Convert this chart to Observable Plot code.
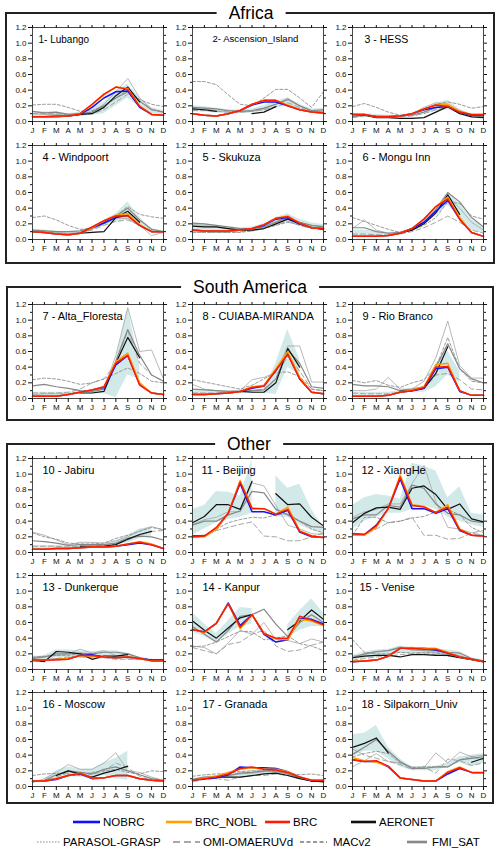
<!DOCTYPE html>
<html><head><meta charset="utf-8">
<script src="https://cdn.jsdelivr.net/npm/d3@7"></script>
<script src="https://cdn.jsdelivr.net/npm/@observablehq/plot@0.6"></script>
<style>
body{margin:0;background:#fff;font-family:"Liberation Sans",Arial,Helvetica,sans-serif;}
#root{position:relative;width:500px;height:853px;overflow:hidden;background:#fff;}
.box{position:absolute;border:2px solid #222;box-sizing:border-box;}
.gtitle{position:absolute;font-size:17.5px;background:#fff;padding:0 12px;transform:translate(-50%,-50%);line-height:20px;white-space:nowrap;color:#000;}
.pn{position:absolute;}
.lg{position:absolute;font-size:11.5px;line-height:14px;white-space:nowrap;color:#000;transform:translateY(-50%);}
.lgs{position:absolute;overflow:visible;}
</style></head><body><div id="root"></div>
<script>
const months = ["J","F","M","A","M","J","J","A","S","O","N","D"];
const stations = ["1- Lubango","2- Ascension_Island","3 - HESS","4 - Windpoort","5 - Skukuza","6 - Mongu Inn",
 "7 - Alta_Floresta","8 - CUIABA-MIRANDA","9 - Rio Branco","10 - Jabiru","11 - Beijing","12 - XiangHe",
 "13 - Dunkerque","14 - Kanpur","15 - Venise","16 - Moscow","17 - Granada","18 - Silpakorn_Univ"];
const regions = ["Africa","South America","Other"];
const legendLabels = ["NOBRC","BRC_NOBL","BRC","AERONET","PARASOL-GRASP","OMI-OMAERUVd","MACv2","FMI_SAT"];

const nobrc = [
[0.06,0.06,0.06,0.07,0.09,0.18,0.30,0.38,0.39,0.18,0.09,0.08],
[0.10,0.08,0.07,0.10,0.14,0.21,0.25,0.25,0.20,0.15,0.12,0.11],
[0.09,0.09,0.06,0.06,0.07,0.10,0.15,0.18,0.19,0.12,0.08,0.08],
[0.10,0.09,0.07,0.06,0.08,0.15,0.21,0.28,0.31,0.18,0.10,0.10],
[0.12,0.11,0.11,0.11,0.12,0.14,0.18,0.26,0.28,0.20,0.15,0.14],
[0.04,0.04,0.04,0.05,0.08,0.14,0.22,0.36,0.50,0.26,0.09,0.04],
[0.03,0.03,0.03,0.05,0.08,0.11,0.14,0.43,0.55,0.18,0.07,0.05],
[0.05,0.05,0.06,0.07,0.09,0.13,0.16,0.36,0.58,0.25,0.08,0.06],
[0.03,0.03,0.03,0.04,0.08,0.10,0.13,0.38,0.40,0.09,0.04,0.04],
[0.04,0.04,0.05,0.05,0.06,0.07,0.07,0.08,0.10,0.12,0.10,0.05],
[0.21,0.21,0.30,0.50,0.88,0.52,0.52,0.48,0.54,0.26,0.20,0.19],
[0.24,0.23,0.35,0.56,0.94,0.56,0.56,0.50,0.56,0.28,0.22,0.21],
[0.12,0.12,0.13,0.14,0.18,0.19,0.16,0.15,0.16,0.14,0.12,0.12],
[0.51,0.48,0.59,0.85,0.56,0.70,0.45,0.35,0.38,0.65,0.64,0.58],
[0.10,0.11,0.12,0.17,0.27,0.27,0.27,0.25,0.21,0.16,0.13,0.10],
[0.07,0.07,0.09,0.14,0.16,0.10,0.11,0.14,0.14,0.10,0.08,0.07],
[0.08,0.10,0.11,0.15,0.25,0.24,0.24,0.23,0.19,0.12,0.07,0.07],
[0.34,0.32,0.32,0.25,0.11,0.09,0.07,0.07,0.16,0.23,0.18,0.17]];

const brcNobl = [
[0.06,0.06,0.07,0.07,0.10,0.21,0.34,0.44,0.42,0.20,0.09,0.08],
[0.10,0.08,0.07,0.10,0.14,0.22,0.27,0.27,0.21,0.15,0.12,0.11],
[0.09,0.09,0.06,0.06,0.07,0.10,0.16,0.21,0.22,0.13,0.09,0.09],
[0.10,0.09,0.07,0.06,0.08,0.15,0.24,0.31,0.33,0.19,0.10,0.10],
[0.12,0.11,0.11,0.11,0.12,0.14,0.19,0.27,0.30,0.21,0.15,0.14],
[0.04,0.04,0.04,0.05,0.08,0.14,0.26,0.42,0.54,0.28,0.09,0.04],
[0.03,0.03,0.03,0.05,0.08,0.11,0.15,0.47,0.58,0.20,0.07,0.05],
[0.05,0.05,0.06,0.07,0.09,0.15,0.17,0.38,0.60,0.27,0.08,0.06],
[0.03,0.03,0.03,0.04,0.08,0.11,0.15,0.43,0.45,0.10,0.04,0.04],
[0.04,0.04,0.05,0.05,0.06,0.07,0.07,0.08,0.11,0.14,0.11,0.05],
[0.19,0.20,0.30,0.50,0.92,0.57,0.56,0.49,0.58,0.28,0.21,0.19],
[0.22,0.22,0.32,0.56,0.99,0.61,0.59,0.51,0.61,0.30,0.22,0.21],
[0.12,0.12,0.13,0.14,0.18,0.17,0.16,0.15,0.16,0.14,0.11,0.11],
[0.52,0.47,0.59,0.84,0.52,0.70,0.46,0.39,0.38,0.64,0.62,0.56],
[0.11,0.11,0.12,0.17,0.27,0.28,0.27,0.27,0.22,0.16,0.13,0.10],
[0.07,0.07,0.10,0.14,0.17,0.11,0.11,0.14,0.14,0.10,0.08,0.07],
[0.08,0.11,0.13,0.18,0.22,0.24,0.22,0.22,0.19,0.12,0.08,0.08],
[0.37,0.33,0.31,0.26,0.11,0.09,0.07,0.07,0.19,0.25,0.18,0.17]];

const brc = [
[0.06,0.06,0.07,0.07,0.10,0.22,0.35,0.44,0.41,0.19,0.09,0.08],
[0.10,0.08,0.07,0.10,0.14,0.22,0.27,0.27,0.20,0.15,0.12,0.11],
[0.09,0.09,0.06,0.06,0.07,0.10,0.16,0.21,0.19,0.12,0.09,0.09],
[0.10,0.09,0.07,0.06,0.08,0.16,0.24,0.30,0.30,0.18,0.10,0.10],
[0.12,0.11,0.11,0.11,0.12,0.14,0.19,0.27,0.29,0.21,0.15,0.14],
[0.04,0.04,0.04,0.05,0.08,0.14,0.26,0.42,0.52,0.26,0.09,0.04],
[0.03,0.03,0.03,0.05,0.08,0.11,0.15,0.45,0.55,0.17,0.07,0.05],
[0.05,0.05,0.06,0.07,0.09,0.14,0.16,0.36,0.56,0.25,0.08,0.06],
[0.03,0.03,0.03,0.04,0.08,0.10,0.14,0.40,0.41,0.10,0.04,0.04],
[0.04,0.04,0.05,0.05,0.06,0.07,0.07,0.08,0.11,0.13,0.10,0.05],
[0.20,0.21,0.32,0.50,0.90,0.56,0.56,0.49,0.55,0.27,0.21,0.19],
[0.24,0.23,0.34,0.56,0.96,0.60,0.58,0.51,0.58,0.29,0.22,0.21],
[0.12,0.12,0.12,0.13,0.18,0.18,0.16,0.15,0.16,0.14,0.11,0.11],
[0.51,0.48,0.59,0.84,0.54,0.70,0.46,0.40,0.40,0.68,0.63,0.57],
[0.10,0.11,0.12,0.17,0.27,0.27,0.26,0.26,0.21,0.16,0.13,0.10],
[0.07,0.07,0.10,0.14,0.17,0.11,0.11,0.14,0.14,0.10,0.08,0.07],
[0.08,0.10,0.12,0.16,0.23,0.25,0.22,0.21,0.18,0.12,0.08,0.08],
[0.34,0.32,0.33,0.26,0.11,0.09,0.07,0.07,0.18,0.24,0.18,0.18]];

const aeronet = [
[null,null,null,0.07,0.09,0.10,0.18,0.33,0.44,0.25,null,null],
[0.16,0.15,0.13,null,null,0.10,0.12,0.19,null,null,null,null],
[0.09,0.08,0.05,0.05,0.04,0.04,0.05,0.12,0.19,0.10,0.06,0.05],
[null,null,null,null,0.08,0.09,0.10,0.28,0.36,0.22,null,null],
[0.17,0.16,0.16,0.14,0.12,0.12,0.14,0.20,0.26,0.20,0.15,0.13],
[null,null,null,null,0.08,0.12,0.20,0.34,0.57,0.32,null,null],
[null,null,null,null,0.07,0.07,0.09,0.45,0.78,0.52,null,null],
[null,null,null,null,0.09,0.08,0.08,0.20,0.64,0.40,null,null],
[null,null,null,null,0.09,0.10,0.13,0.32,0.66,null,null,null],
[null,null,null,null,0.08,0.08,0.08,0.10,0.17,0.23,0.27,null],
[0.38,0.46,0.61,0.61,0.55,0.91,null,0.75,0.61,0.62,0.45,0.34],
[0.38,0.50,0.57,0.58,0.55,0.82,0.85,0.74,0.55,0.62,0.43,0.39],
[0.12,0.10,0.23,0.22,0.20,0.13,0.17,0.17,0.19,null,null,null],
[0.62,0.50,0.40,0.53,0.66,0.70,null,null,0.51,0.62,0.76,0.64],
[0.15,0.17,0.18,0.18,0.16,0.19,0.19,0.18,0.18,0.15,0.13,0.10],
[null,null,0.14,0.20,0.16,0.12,0.17,0.21,0.26,null,null,null],
[0.08,0.10,0.12,0.12,0.12,0.14,0.16,0.17,0.14,0.10,0.07,0.06],
[0.50,0.55,0.62,0.43,null,null,null,null,null,null,0.31,0.36]];

const parasol = [
[0.10,0.09,0.09,0.08,0.09,0.12,0.22,0.38,0.55,0.30,0.16,0.12],
[0.15,0.16,0.14,0.12,0.12,0.13,0.16,0.22,0.30,0.20,0.13,0.14],
[0.07,0.08,0.07,0.06,0.07,0.10,0.18,0.24,0.22,0.14,0.08,0.06],
[0.11,0.10,0.09,0.08,0.09,0.13,0.20,0.27,0.27,0.18,0.05,0.09],
[0.19,0.18,0.16,0.14,0.13,0.14,0.17,0.23,0.27,0.22,0.18,0.17],
[0.14,0.25,0.12,0.08,0.08,0.12,0.20,0.33,0.55,0.40,0.22,0.12],
[0.05,0.06,0.06,0.06,0.08,0.10,0.12,0.55,1.16,0.60,0.62,0.25],
[0.18,0.12,0.10,0.09,0.10,0.24,0.27,0.33,0.67,0.67,0.21,0.21],
[0.10,0.10,0.12,0.27,0.12,0.12,0.22,0.52,0.99,0.42,0.26,0.26],
[0.26,0.22,0.16,0.10,0.13,0.13,0.12,0.15,0.20,0.28,0.33,0.29],
[0.36,0.42,0.45,0.52,0.52,0.89,0.85,0.60,0.35,0.30,0.24,0.23],
[0.45,0.52,0.55,0.62,0.62,0.88,1.11,0.65,0.32,0.30,0.25,0.22],
[0.17,0.16,0.18,0.20,0.26,0.21,0.24,0.18,0.14,0.13,0.11,0.12],
[0.30,0.28,0.20,0.34,0.50,0.45,0.60,0.38,0.37,0.33,0.39,0.35],
[0.17,0.19,0.22,0.24,0.29,0.26,0.24,0.22,0.20,0.18,0.13,0.11],
[0.05,0.10,0.18,0.28,0.22,0.22,0.30,0.43,0.20,0.18,0.12,0.08],
[0.07,0.10,0.12,0.14,0.16,0.17,0.19,0.22,0.17,0.12,0.08,0.07],
[0.25,0.33,0.42,0.32,0.30,0.25,0.24,0.43,0.30,0.44,0.38,0.40]];

const omi = [
[0.10,0.10,0.10,0.09,0.09,0.10,0.15,0.25,0.35,0.26,0.15,0.12],
[0.14,0.14,0.13,0.12,0.12,0.13,0.15,0.19,0.24,0.18,0.12,0.13],
[0.05,0.07,0.06,0.06,0.06,0.07,0.10,0.15,0.18,0.12,0.07,0.06],
[0.10,0.09,0.08,0.07,0.08,0.12,0.18,0.23,0.25,0.18,0.11,0.10],
[0.10,0.09,0.09,0.09,0.10,0.11,0.14,0.19,0.23,0.18,0.14,0.13],
[0.07,0.07,0.06,0.06,0.07,0.10,0.15,0.22,0.30,0.22,0.12,0.08],
[0.07,0.07,0.07,0.08,0.12,0.20,0.25,0.45,0.86,0.45,0.30,0.22],
[0.07,0.07,0.07,0.07,0.08,0.10,0.12,0.25,0.55,0.35,0.12,0.10],
[0.07,0.06,0.06,0.06,0.08,0.10,0.12,0.30,0.32,0.24,0.12,0.11],
[0.08,0.08,0.08,0.07,0.08,0.08,0.09,0.11,0.16,0.22,0.27,0.28],
[0.21,0.22,0.28,0.32,0.36,0.39,0.21,0.20,0.15,0.15,0.20,0.25],
[0.22,0.23,0.30,0.38,0.40,0.45,0.22,0.22,0.17,0.18,0.25,0.28],
[0.10,0.11,0.14,0.16,0.16,0.15,0.15,0.13,0.13,0.13,0.12,0.11],
[0.28,0.24,0.20,0.32,0.35,0.45,0.50,0.30,0.23,0.25,0.31,0.35],
[0.12,0.14,0.16,0.17,0.19,0.20,0.20,0.19,0.17,0.15,0.12,0.10],
[0.06,0.08,0.12,0.18,0.18,0.15,0.20,0.30,0.24,0.13,0.08,0.07],
[0.06,0.09,0.10,0.08,0.12,0.14,0.14,0.16,0.14,0.10,0.07,0.06],
[0.48,0.40,0.36,0.32,0.28,0.22,0.25,0.17,0.35,0.33,0.27,0.30]];

const macv2 = [
[0.21,0.22,0.22,0.18,0.13,0.14,0.20,0.30,0.40,0.28,0.22,0.19],
[0.51,0.51,0.47,0.34,0.22,0.20,0.30,0.41,0.41,0.30,0.18,0.38],
[0.19,0.23,0.18,0.12,0.08,0.10,0.15,0.22,0.25,0.22,0.17,0.19],
[0.28,0.30,0.25,0.18,0.13,0.14,0.20,0.30,0.42,0.32,0.29,0.27],
[0.09,0.09,0.09,0.09,0.09,0.11,0.14,0.18,0.22,0.19,0.16,0.12],
[0.28,0.23,0.18,0.13,0.09,0.12,0.18,0.28,0.48,0.46,0.30,0.26],
[0.24,0.26,0.25,0.22,0.18,0.20,0.25,0.32,0.39,0.32,0.22,0.20],
[0.24,0.21,0.18,0.15,0.12,0.17,0.25,0.33,0.34,0.28,0.12,0.10],
[0.23,0.20,0.23,0.17,0.14,0.20,0.24,0.40,0.78,0.38,0.22,0.20],
[0.25,0.20,0.17,0.12,0.11,0.11,0.12,0.18,0.22,0.27,0.32,0.29],
[0.21,0.22,0.30,0.38,0.42,0.45,0.44,0.48,0.50,0.40,0.30,0.25],
[0.22,0.45,0.45,0.38,0.40,0.44,0.46,0.52,0.55,0.48,0.32,0.25],
[0.15,0.17,0.18,0.18,0.20,0.18,0.17,0.16,0.20,0.15,0.12,0.12],
[0.29,0.30,0.35,0.42,0.49,0.48,0.38,0.40,0.43,0.33,0.30,0.24],
[0.38,0.22,0.20,0.20,0.22,0.21,0.22,0.21,0.19,0.16,0.12,0.10],
[0.14,0.16,0.17,0.16,0.14,0.18,0.20,0.22,0.18,0.16,0.20,0.19],
[0.13,0.15,0.16,0.17,0.19,0.20,0.20,0.19,0.17,0.15,0.16,0.14],
[0.38,0.42,0.45,0.42,0.30,0.24,0.25,0.25,0.25,0.34,0.38,0.34]];

const fmi = [
[0.13,0.11,0.12,0.09,0.10,0.12,0.20,0.30,0.38,0.26,0.15,0.12],
[0.18,0.17,0.16,0.14,0.13,0.14,0.17,0.22,0.28,0.20,0.14,0.15],
[0.06,0.08,0.07,0.07,0.07,0.08,0.12,0.18,0.20,0.13,0.08,0.07],
[0.12,0.11,0.10,0.10,0.11,0.15,0.22,0.30,0.40,0.25,0.13,0.10],
[0.21,0.20,0.18,0.16,0.14,0.14,0.16,0.22,0.28,0.22,0.18,0.16],
[0.15,0.15,0.10,0.08,0.09,0.13,0.22,0.38,0.60,0.48,0.28,0.16],
[0.16,0.18,0.15,0.13,0.10,0.09,0.12,0.48,0.88,0.55,0.30,0.22],
[0.12,0.11,0.10,0.09,0.09,0.10,0.11,0.25,0.62,0.45,0.15,0.13],
[0.18,0.16,0.16,0.15,0.10,0.12,0.15,0.40,0.70,0.38,0.25,0.20],
[0.15,0.14,0.12,0.09,0.10,0.10,0.10,0.12,0.18,0.21,0.20,0.16],
[0.35,0.40,0.40,0.48,0.53,0.78,0.76,0.55,0.48,0.40,0.33,0.32],
[0.43,0.48,0.48,0.60,0.58,0.86,0.82,0.62,0.50,0.48,0.40,0.38],
[0.14,0.16,0.20,0.20,0.21,0.20,0.22,0.22,0.20,0.15,0.12,0.12],
[0.55,0.45,0.35,0.50,0.68,0.70,0.77,0.58,0.42,0.60,0.70,0.60],
[0.15,0.20,0.23,0.24,0.28,0.25,0.25,0.24,0.22,0.21,0.14,0.11],
[0.06,0.08,0.15,0.20,0.18,0.16,0.22,0.25,0.20,0.15,0.10,0.08],
[0.09,0.12,0.13,0.14,0.17,0.18,0.20,0.20,0.16,0.11,0.08,0.07],
[0.41,0.50,0.60,0.45,0.32,0.23,0.23,0.25,0.25,0.34,0.36,0.38]];

const bandLo = [
[0.05,0.05,0.05,0.05,0.06,0.08,0.10,0.20,0.30,0.18,0.08,0.06],
[0.12,0.12,0.11,0.10,0.10,0.11,0.13,0.17,0.20,0.15,0.11,0.11],
[0.04,0.05,0.05,0.05,0.05,0.06,0.09,0.13,0.15,0.10,0.05,0.04],
[0.09,0.08,0.08,0.07,0.08,0.12,0.18,0.22,0.25,0.16,0.09,0.08],
[0.10,0.10,0.10,0.10,0.10,0.11,0.14,0.19,0.22,0.17,0.13,0.12],
[0.05,0.05,0.05,0.06,0.07,0.11,0.18,0.30,0.44,0.28,0.12,0.07],
[0.03,0.03,0.04,0.05,0.06,0.06,0.06,0.01,0.30,0.25,null,null],
[0.05,0.05,0.06,0.06,0.07,0.07,0.07,0.05,0.40,0.30,null,null],
[0.04,0.04,0.04,0.05,0.07,0.08,0.08,0.15,0.30,0.20,null,null],
[0.05,0.05,0.05,0.05,0.06,0.07,0.07,0.09,0.12,0.18,0.20,null],
[0.22,0.30,0.38,0.42,0.45,0.50,null,0.45,0.45,0.35,0.28,0.25],
[0.30,0.40,0.45,0.50,0.50,0.55,0.60,0.55,0.45,0.40,0.35,0.32],
[0.10,0.12,0.15,0.15,0.15,0.15,0.16,0.16,0.15,0.12,0.10,0.10],
[0.48,0.42,0.34,0.45,0.55,0.58,null,null,0.40,0.50,0.55,0.55],
[0.12,0.14,0.16,0.18,0.20,0.20,0.19,0.18,0.16,0.14,0.11,0.09],
[null,0.05,0.08,0.12,0.12,0.12,0.14,0.10,0.08,null,null,null],
[0.06,0.08,0.10,0.10,0.12,0.14,0.15,0.15,0.13,0.09,0.06,0.05],
[0.38,0.45,0.45,0.35,0.25,0.20,0.20,0.20,0.25,0.30,0.25,0.30]];

const bandHi = [
[0.12,0.12,0.12,0.10,0.12,0.16,0.25,0.38,0.48,0.30,0.18,0.14],
[0.20,0.19,0.17,0.15,0.15,0.16,0.20,0.26,0.30,0.22,0.16,0.17],
[0.09,0.10,0.09,0.08,0.08,0.10,0.16,0.23,0.27,0.16,0.09,0.08],
[0.13,0.12,0.11,0.10,0.11,0.16,0.24,0.33,0.48,0.28,0.14,0.11],
[0.21,0.20,0.18,0.16,0.15,0.16,0.20,0.28,0.33,0.26,0.21,0.19],
[0.12,0.12,0.10,0.09,0.10,0.14,0.24,0.40,0.60,0.46,0.26,0.15],
[0.08,0.08,0.08,0.08,0.09,0.10,0.12,0.48,1.16,0.45,null,null],
[0.10,0.10,0.10,0.10,0.10,0.11,0.12,0.45,0.88,0.50,null,null],
[0.08,0.08,0.08,0.08,0.10,0.12,0.15,0.45,0.60,0.35,null,null],
[0.09,0.09,0.09,0.08,0.09,0.09,0.10,0.15,0.22,0.30,0.33,null],
[0.55,0.60,0.78,0.77,0.72,1.18,null,0.98,0.82,0.87,0.55,0.32],
[0.60,0.70,0.74,0.72,0.68,1.14,1.10,1.04,0.70,0.84,0.50,0.48],
[0.16,0.18,0.25,0.25,0.24,0.23,0.24,0.24,0.21,0.16,0.13,0.13],
[0.72,0.58,0.46,0.62,0.79,0.78,null,null,0.57,0.75,0.90,0.72],
[0.18,0.22,0.25,0.26,0.30,0.28,0.27,0.26,0.25,0.23,0.15,0.12],
[null,0.10,0.20,0.25,0.22,0.22,0.30,0.36,0.45,null,null,null],
[0.10,0.13,0.14,0.15,0.18,0.20,0.22,0.24,0.20,0.13,0.09,0.08],
[0.66,0.68,0.78,0.50,0.35,0.25,0.26,0.26,0.30,0.38,0.40,0.42]];

// ---------- layout (not data) ----------
const FONT = '"Liberation Sans", Arial, Helvetica, sans-serif';
const colLeft = [32, 192, 352];
const rowTop = [27, 145, 304, 458, 575, 692];
const PW = 131, PH = 94, ML = 28, MR = 6, MT = 6, MB = 18;
const titleDx = [6,20,12,10,10,10,10,10,10,10,9,9,10,10,7,10,10,9];
const titleSize = [10,9.6,10.5,11,11,11,11,11,11,11,11,11,11,11,11,11,11,11];

const root = document.getElementById("root");

// region boxes
const boxes = [
  {l:5, t:12, w:490, h:252, cx:251, cy:13},
  {l:6, t:286, w:488, h:135, cx:250, cy:287},
  {l:6, t:443, w:488, h:361, cx:249, cy:444}
];
boxes.forEach((b, k) => {
  const d = document.createElement("div");
  d.className = "box";
  Object.assign(d.style, {left:b.l+"px", top:b.t+"px", width:b.w+"px", height:b.h+"px"});
  root.appendChild(d);
  const t = document.createElement("div");
  t.className = "gtitle";
  t.textContent = regions[k];
  Object.assign(t.style, {left:b.cx+"px", top:b.cy+"px"});
  root.appendChild(t);
});

function makePanel(i) {
  const rows = months.map((mn, m) => ({
    m, lo: bandLo[i][m], hi: bandHi[i][m],
    nobrc: nobrc[i][m], brcNobl: brcNobl[i][m], brc: brc[i][m], aeronet: aeronet[i][m],
    parasol: parasol[i][m], omi: omi[i][m], macv2: macv2[i][m], fmi: fmi[i][m]
  }));
  const line = (k, o) => Plot.lineY(rows, {x: "m", y: k, ...o});
  const none = () => "";
  const major = d3.range(0, 1.21, 0.2).map(v => +v.toFixed(1));
  const minor = d3.range(0.1, 1.2, 0.2).map(v => +v.toFixed(1));
  return Plot.plot({
    width: PW + ML + MR, height: PH + MT + MB,
    marginLeft: ML, marginRight: MR, marginTop: MT, marginBottom: MB,
    x: {domain: [0, 11], axis: null, label: null},
    y: {domain: [0, 1.2], axis: null, label: null},
    style: {fontFamily: FONT, fontSize: "8px", background: "transparent", color: "#111", overflow: "visible"},
    marks: [
      Plot.areaY(rows, {x: "m", y1: "lo", y2: "hi", fill: "#d2e9e9"}),
      line("parasol", {stroke: "#a6a6a6", strokeWidth: 0.8}),
      line("omi", {stroke: "#9c9c9c", strokeWidth: 0.9, strokeDasharray: "5,3"}),
      line("macv2", {stroke: "#8e8e8e", strokeWidth: 0.9, strokeDasharray: "3,2"}),
      line("fmi", {stroke: "#878787", strokeWidth: 1.2}),
      line("aeronet", {stroke: "#111", strokeWidth: 1.2}),
      line("nobrc", {stroke: "#1010ff", strokeWidth: 1.5}),
      line("brcNobl", {stroke: "#ffa000", strokeWidth: 1.5}),
      line("brc", {stroke: "#ff1a00", strokeWidth: 1.5}),
      Plot.frame({stroke: "#333", strokeWidth: 0.9}),
      Plot.axisX({anchor: "bottom", ticks: d3.range(12), tickFormat: m => months[m], tickSize: 4, tickPadding: 2, fontSize: 8, label: null}),
      Plot.axisX({anchor: "top", ticks: d3.range(12), tickFormat: none, tickSize: 3, label: null}),
      Plot.axisY({anchor: "left", ticks: major, tickFormat: d3.format(".1f"), tickSize: 4, tickPadding: 2, fontSize: 8, label: null}),
      Plot.axisY({anchor: "left", ticks: minor, tickFormat: none, tickSize: 2, label: null}),
      Plot.axisY({anchor: "right", ticks: major, tickFormat: none, tickSize: 3, label: null}),
      Plot.axisY({anchor: "right", ticks: minor, tickFormat: none, tickSize: 2, label: null}),
      Plot.text([stations[i]], {text: d => d, frameAnchor: "top-left", dx: titleDx[i], dy: 8,
        textAnchor: "start", lineAnchor: "top", fontSize: titleSize[i], fill: "#000"})
    ]
  });
}

for (let i = 0; i < 18; i++) {
  const r = Math.floor(i / 3), c = i % 3;
  const wrap = document.createElement("div");
  wrap.className = "pn";
  wrap.style.left = (colLeft[c] - ML) + "px";
  wrap.style.top = (rowTop[r] - MT) + "px";
  wrap.appendChild(makePanel(i));
  root.appendChild(wrap);
}

// legend
const legendPos = [
  {x1:73, x2:100, tx:103, y:822}, {x1:166, x2:192, tx:195, y:822},
  {x1:265, x2:290, tx:293, y:822}, {x1:351, x2:376, tx:379, y:822},
  {x1:37, x2:60, tx:63, y:842}, {x1:173, x2:200, tx:203, y:842},
  {x1:300, x2:327, tx:333, y:842}, {x1:407, x2:427, tx:432, y:842}
];
const legendStyle = [
  {stroke:"#1010ff", w:2.6, dash:null}, {stroke:"#ffa000", w:2.6, dash:null},
  {stroke:"#ff1a00", w:2.6, dash:null}, {stroke:"#111", w:2.6, dash:null},
  {stroke:"#8a8a8a", w:1, dash:"1.5,1.5"}, {stroke:"#a8a8a8", w:2, dash:"7,4"},
  {stroke:"#9a9a9a", w:2, dash:"4,2.5"}, {stroke:"#888", w:2.6, dash:null}
];
const ns = "http://www.w3.org/2000/svg";
legendLabels.forEach((lab, k) => {
  const p = legendPos[k], s = legendStyle[k];
  const svg = document.createElementNS(ns, "svg");
  svg.setAttribute("class", "lgs");
  svg.setAttribute("width", p.x2 - p.x1);
  svg.setAttribute("height", 6);
  svg.style.left = p.x1 + "px";
  svg.style.top = (p.y - 3) + "px";
  const ln = document.createElementNS(ns, "line");
  ln.setAttribute("x1", 0); ln.setAttribute("x2", p.x2 - p.x1);
  ln.setAttribute("y1", 3); ln.setAttribute("y2", 3);
  ln.setAttribute("stroke", s.stroke); ln.setAttribute("stroke-width", s.w);
  if (s.dash) ln.setAttribute("stroke-dasharray", s.dash);
  svg.appendChild(ln);
  root.appendChild(svg);
  const t = document.createElement("div");
  t.className = "lg";
  t.textContent = lab;
  t.style.left = p.tx + "px";
  t.style.top = p.y + "px";
  root.appendChild(t);
});
</script></body></html>
